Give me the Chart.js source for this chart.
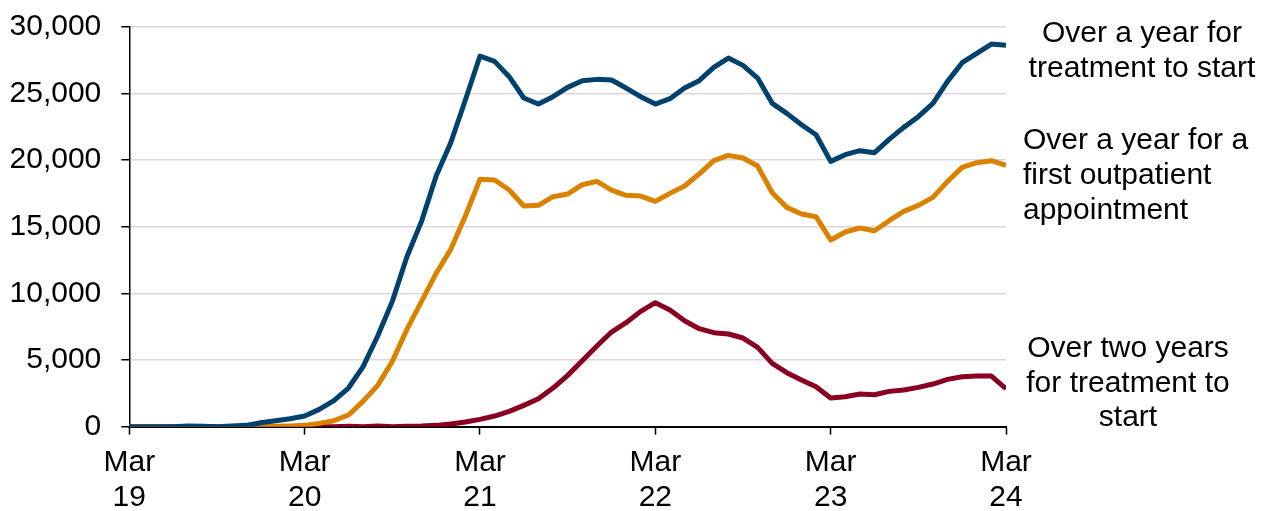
<!DOCTYPE html>
<html>
<head>
<meta charset="utf-8">
<script src="https://cdn.jsdelivr.net/npm/chart.js@4/dist/chart.umd.min.js"></script>
<style>
  html, body { margin: 0; padding: 0; background: #ffffff; }
  #wrap { position: relative; width: 1269px; height: 511px; }
  canvas { display: block; }
</style>
</head>
<body>
<div id="wrap"><canvas id="c" width="1269" height="511"></canvas></div>
<script>
// Months Mar 2019 .. Mar 2024 (61 monthly points)
const categories = [
  "Mar 19","Apr 19","May 19","Jun 19","Jul 19","Aug 19","Sep 19","Oct 19","Nov 19","Dec 19","Jan 20","Feb 20",
  "Mar 20","Apr 20","May 20","Jun 20","Jul 20","Aug 20","Sep 20","Oct 20","Nov 20","Dec 20","Jan 21","Feb 21",
  "Mar 21","Apr 21","May 21","Jun 21","Jul 21","Aug 21","Sep 21","Oct 21","Nov 21","Dec 21","Jan 22","Feb 22",
  "Mar 22","Apr 22","May 22","Jun 22","Jul 22","Aug 22","Sep 22","Oct 22","Nov 22","Dec 22","Jan 23","Feb 23",
  "Mar 23","Apr 23","May 23","Jun 23","Jul 23","Aug 23","Sep 23","Oct 23","Nov 23","Dec 23","Jan 24","Feb 24",
  "Mar 24"
];

const overYearTreatment = [
  0, 0, 0, 0, 50, 30, 0, 50, 100, 300, 450, 600,
  800, 1300, 1950, 2900, 4500, 6800, 9400, 12750, 15400, 18800, 21300, 24500,
  27800, 27400, 26250, 24650, 24200, 24750, 25450, 25950, 26050, 26000, 25400, 24750,
  24200, 24600, 25400, 25950, 26950, 27650, 27100, 26150, 24250, 23500, 22650, 21900,
  19900, 20400, 20700, 20550, 21550, 22450, 23250, 24250, 25900, 27300, 28000, 28700,
  28600
];

const overYearOutpatient = [
  0, 0, 0, 0, 0, 0, 0, 0, 0, 0, 30, 60,
  100, 250, 450, 875, 1900, 3100, 4900, 7300, 9400, 11500, 13300, 15800,
  18550, 18500, 17750, 16550, 16600, 17250, 17450, 18150, 18400, 17750, 17350, 17300,
  16900, 17500, 18050, 18950, 19950, 20350, 20150, 19550, 17550, 16450, 15950, 15750,
  14000, 14600, 14900, 14700, 15450, 16150, 16600, 17200, 18400, 19450, 19800, 19950,
  19600
];

const overTwoYearsTreatment = [
  null, 0, 0, 0, 0, 0, 0, 0, 0, 0, 0, 0,
  0, 0, 0, 30, 0, 50, 0, 30, 50, 100, 200, 350,
  550, 800, 1150, 1600, 2100, 2900, 3850, 4950, 6050, 7100, 7800, 8650,
  9300, 8750, 7950, 7350, 7050, 6950, 6650, 5950, 4750, 4050, 3500, 3000,
  2150, 2250, 2450, 2400, 2650, 2750, 2950, 3200, 3550, 3750, 3800, 3800,
  2850
];

const xTickLabels = [["Mar","19"],["Mar","20"],["Mar","21"],["Mar","22"],["Mar","23"],["Mar","24"]];
const yTicks = [0, 5000, 10000, 15000, 20000, 25000, 30000];

const seriesNames = [
  "Over a year for treatment to start",
  "Over a year for a first outpatient appointment",
  "Over two years for treatment to start"
];
const labelLines = [
  ["Over a year for", "treatment to start"],
  ["Over a year for a", "first outpatient", "appointment"],
  ["Over two years", "for treatment to", "start"]
];

const COLORS = ["#00416E", "#DA8200", "#8A0023"];
const FONT = "'Liberation Sans', Arial, Helvetica, sans-serif";

function toPoints(arr) { return arr.map((v, i) => ({ x: i, y: v })); }

const rightLabels = {
  id: 'rightLabels',
  afterDraw(chart) {
    const ctx = chart.ctx;
    ctx.save();
    ctx.fillStyle = '#000';
    ctx.font = "30px " + FONT;
    ctx.textBaseline = 'alphabetic';
    ctx.textAlign = 'center';
    labelLines[0].forEach((t, i) => ctx.fillText(t, 1142, 42 + i * 35));
    ctx.textAlign = 'left';
    labelLines[1].forEach((t, i) => ctx.fillText(t, 1023, 149 + i * 35));
    ctx.textAlign = 'center';
    labelLines[2].forEach((t, i) => ctx.fillText(t, 1128, 357 + i * 34.5));
    ctx.restore();
  }
};

const ctx = document.getElementById('c').getContext('2d');
new Chart(ctx, {
  type: 'line',
  data: {
    datasets: [
      { label: seriesNames[0], data: toPoints(overYearTreatment), borderColor: COLORS[0] },
      { label: seriesNames[1], data: toPoints(overYearOutpatient), borderColor: COLORS[1] },
      { label: seriesNames[2], data: toPoints(overTwoYearsTreatment), borderColor: COLORS[2] }
    ]
  },
  options: {
    responsive: false,
    animation: false,
    events: [],
    layout: { padding: { top: 26.7, right: 263, bottom: 0, left: 0 } },
    elements: {
      point: { radius: 0 },
      line: { borderWidth: 5, tension: 0, borderJoinStyle: 'round', borderCapStyle: 'butt', fill: false }
    },
    plugins: { legend: { display: false }, tooltip: { enabled: false } },
    scales: {
      x: {
        type: 'linear',
        min: 0,
        max: 60,
        afterBuildTicks(scale) { scale.ticks = xTickLabels.map((_, i) => ({ value: i * 12 })); },
        afterFit(scale) {
          scale.height = 511 - 426.7;
          scale.paddingLeft = 0; scale.paddingRight = 0; scale.paddingTop = 0; scale.paddingBottom = 0;
        },
        ticks: {
          autoSkip: false,
          maxRotation: 0,
          padding: 11,
          color: '#000',
          font: { family: FONT, size: 30, lineHeight: 1.15 },
          callback: (v) => xTickLabels[Math.round(v / 12)]
        },
        grid: { drawOnChartArea: false, drawTicks: true, tickLength: 8, tickColor: '#000', tickWidth: 1.5 },
        border: { display: true, color: '#000', width: 2 }
      },
      y: {
        min: 0,
        max: 30000,
        afterBuildTicks(scale) { scale.ticks = yTicks.map(v => ({ value: v })); },
        afterFit(scale) {
          scale.width = 129.3;
          scale.paddingLeft = 0; scale.paddingRight = 0; scale.paddingTop = 0; scale.paddingBottom = 0;
        },
        ticks: {
          padding: 20,
          color: '#000',
          font: { family: FONT, size: 30 },
          callback: (v) => v.toLocaleString('en-GB')
        },
        grid: { color: '#d9d9d9', lineWidth: 1.5, drawTicks: true, tickLength: 8, tickColor: '#000', tickWidth: 1.5 },
        border: { display: true, color: '#000', width: 1.5 }
      }
    }
  },
  plugins: [rightLabels]
});
</script>
</body>
</html>
